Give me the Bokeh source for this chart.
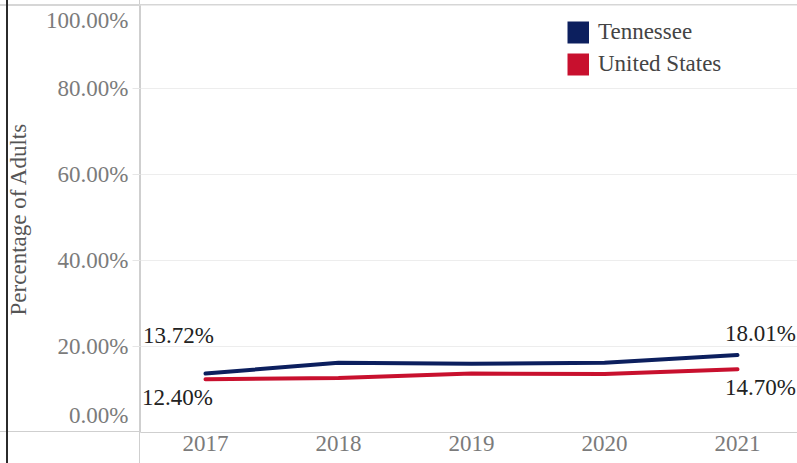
from bokeh.plotting import figure
from bokeh.models import (Range1d, FixedTicker, Legend, LegendItem,
                          ColumnDataSource)
from bokeh.core.properties import value
from bokeh.embed import file_html
from bokeh.resources import INLINE

# ---------------- data ----------------
years = ["2017", "2018", "2019", "2020", "2021"]
tennessee = [13.72, 16.2, 16.0, 16.2, 18.01]
united_states = [12.40, 12.7, 13.7, 13.6, 14.70]
series_names = ["Tennessee", "United States"]
y_ticks = [0, 20, 40, 60, 80, 100]
y_tick_labels = ["0.00%", "20.00%", "40.00%", "60.00%", "80.00%", "100.00%"]
y_axis_title = "Percentage of Adults"

# ---------------- style ----------------
FONT = "Liberation Serif"
FS = "23px"
NAVY = "#0c1f5e"
RED = "#c8102e"
TICK_COLOR = "#7b7b7b"
W, H = 797, 463
LEFT, BOTTOM, TOP = 140, 31, 5
PX_PER_PCT = 4.3
PX_PER_YEAR = 133
FIRST_YEAR_PX = 65

frame_w = W - LEFT
frame_h = H - BOTTOM - TOP
x_start = -FIRST_YEAR_PX / PX_PER_YEAR
x_end = x_start + frame_w / PX_PER_YEAR
y_end = frame_h / PX_PER_PCT

p = figure(width=W, height=H, output_backend="svg", toolbar_location=None,
           x_range=Range1d(x_start, x_end), y_range=Range1d(0, y_end),
           min_border_left=LEFT, min_border_bottom=BOTTOM,
           min_border_top=TOP, min_border_right=0)
p.outline_line_color = None
p.background_fill_color = "white"
p.border_fill_color = None
p.styles = {
    "background": (
        "linear-gradient(to right, transparent 6px, #2b2b2b 6px, #2b2b2b 8px, transparent 8px),"
        "linear-gradient(to bottom, transparent 4px, #d6d6d6 4px, #d6d6d6 6px, transparent 6px),"
        "linear-gradient(to bottom, transparent 431px, #cfcfcf 431px, #cfcfcf 432px, transparent 432px),"
        "linear-gradient(to right, transparent 139px, #cfcfcf 139px, #cfcfcf 140px, transparent 140px),"
        "white"
    )
}

xs = list(range(len(years)))

# ---- x axis ----
p.xaxis.ticker = FixedTicker(ticks=xs)
p.xaxis.major_label_overrides = {i: y for i, y in zip(xs, years)}
p.xaxis.major_tick_line_color = None
p.xaxis.major_tick_out = 0
p.xaxis.major_tick_in = 0
p.xaxis.minor_tick_line_color = None
p.xaxis.minor_tick_out = 0
p.xaxis.minor_tick_in = 0
p.xaxis.major_label_standoff = 3
p.xaxis.axis_line_color = "#cfcfcf"
p.xaxis.major_label_text_font = FONT
p.xaxis.major_label_text_font_size = FS
p.xaxis.major_label_text_color = TICK_COLOR

# ---- y axis (end labels nudged inward, as in the reference) ----
nudge = 17.5 / PX_PER_PCT
tick_pos = []
for t in y_ticks:
    if t == min(y_ticks):
        tick_pos.append(t + nudge)
    elif t == max(y_ticks):
        tick_pos.append(t - nudge)
    else:
        tick_pos.append(t)
p.yaxis.ticker = FixedTicker(ticks=tick_pos, minor_ticks=y_ticks[1:-1])
p.yaxis.major_label_overrides = {tp: lab for tp, lab in zip(tick_pos, y_tick_labels)}
p.yaxis.major_tick_line_color = None
p.yaxis.major_tick_out = 0
p.yaxis.major_tick_in = 0
p.yaxis.minor_tick_line_color = "#e6e6e6"
p.yaxis.minor_tick_out = 8
p.yaxis.minor_tick_in = 0
p.yaxis.major_label_standoff = 4
p.yaxis.axis_line_color = "#cfcfcf"
p.yaxis.major_label_text_font = FONT
p.yaxis.major_label_text_font_size = FS
p.yaxis.major_label_text_color = TICK_COLOR
p.yaxis.axis_label = y_axis_title
p.yaxis.axis_label_text_font = FONT
p.yaxis.axis_label_text_font_size = FS
p.yaxis.axis_label_text_font_style = "normal"
p.yaxis.axis_label_text_color = "#555555"
p.yaxis.axis_label_standoff = 12

p.xgrid.visible = False
p.ygrid.ticker = FixedTicker(ticks=y_ticks[1:-1])
p.ygrid.grid_line_color = "#ededed"

# ---- lines ----
p.line(xs, tennessee, line_color=NAVY, line_width=4, line_cap="round", line_join="round")
p.line(xs, united_states, line_color=RED, line_width=4, line_cap="round", line_join="round")

# ---- legend with square swatches (hidden thick-line renderers) ----
SW = 22
sw_tn = p.line(xs, tennessee, line_color=NAVY, line_width=SW, line_cap="butt", visible=False)
sw_us = p.line(xs, united_states, line_color=RED, line_width=SW, line_cap="butt", visible=False)
legend = Legend(items=[LegendItem(label=series_names[0], renderers=[sw_tn]),
                       LegendItem(label=series_names[1], renderers=[sw_us])],
                location=(427, 354), orientation="vertical",
                glyph_width=SW, glyph_height=28, spacing=4, padding=0, margin=0,
                label_standoff=9, border_line_color=None, background_fill_alpha=0,
                label_text_font=FONT, label_text_font_size=FS,
                label_text_color="#444444")
p.add_layout(legend)

# ---- end labels ----
first, last = xs[0], xs[-1]
lab_x = [first, first, last, last]
lab_y = [tennessee[0], united_states[0], tennessee[-1], united_states[-1]]
lab_text = [f"{v:.2f}%" for v in lab_y]
x_off = [-27, -28, 23, 23]
y_off = [-38, 18, -22, 18]
src = ColumnDataSource(dict(x=lab_x, y=lab_y, text=lab_text, xo=x_off, yo=y_off))
p.text(x="x", y="y", text="text", x_offset="xo", y_offset="yo", source=src,
       text_font=value(FONT), text_font_size=FS, text_color="#222222",
       text_align="center", text_baseline="middle")

open("out.html", "w").write(file_html(p, INLINE))
